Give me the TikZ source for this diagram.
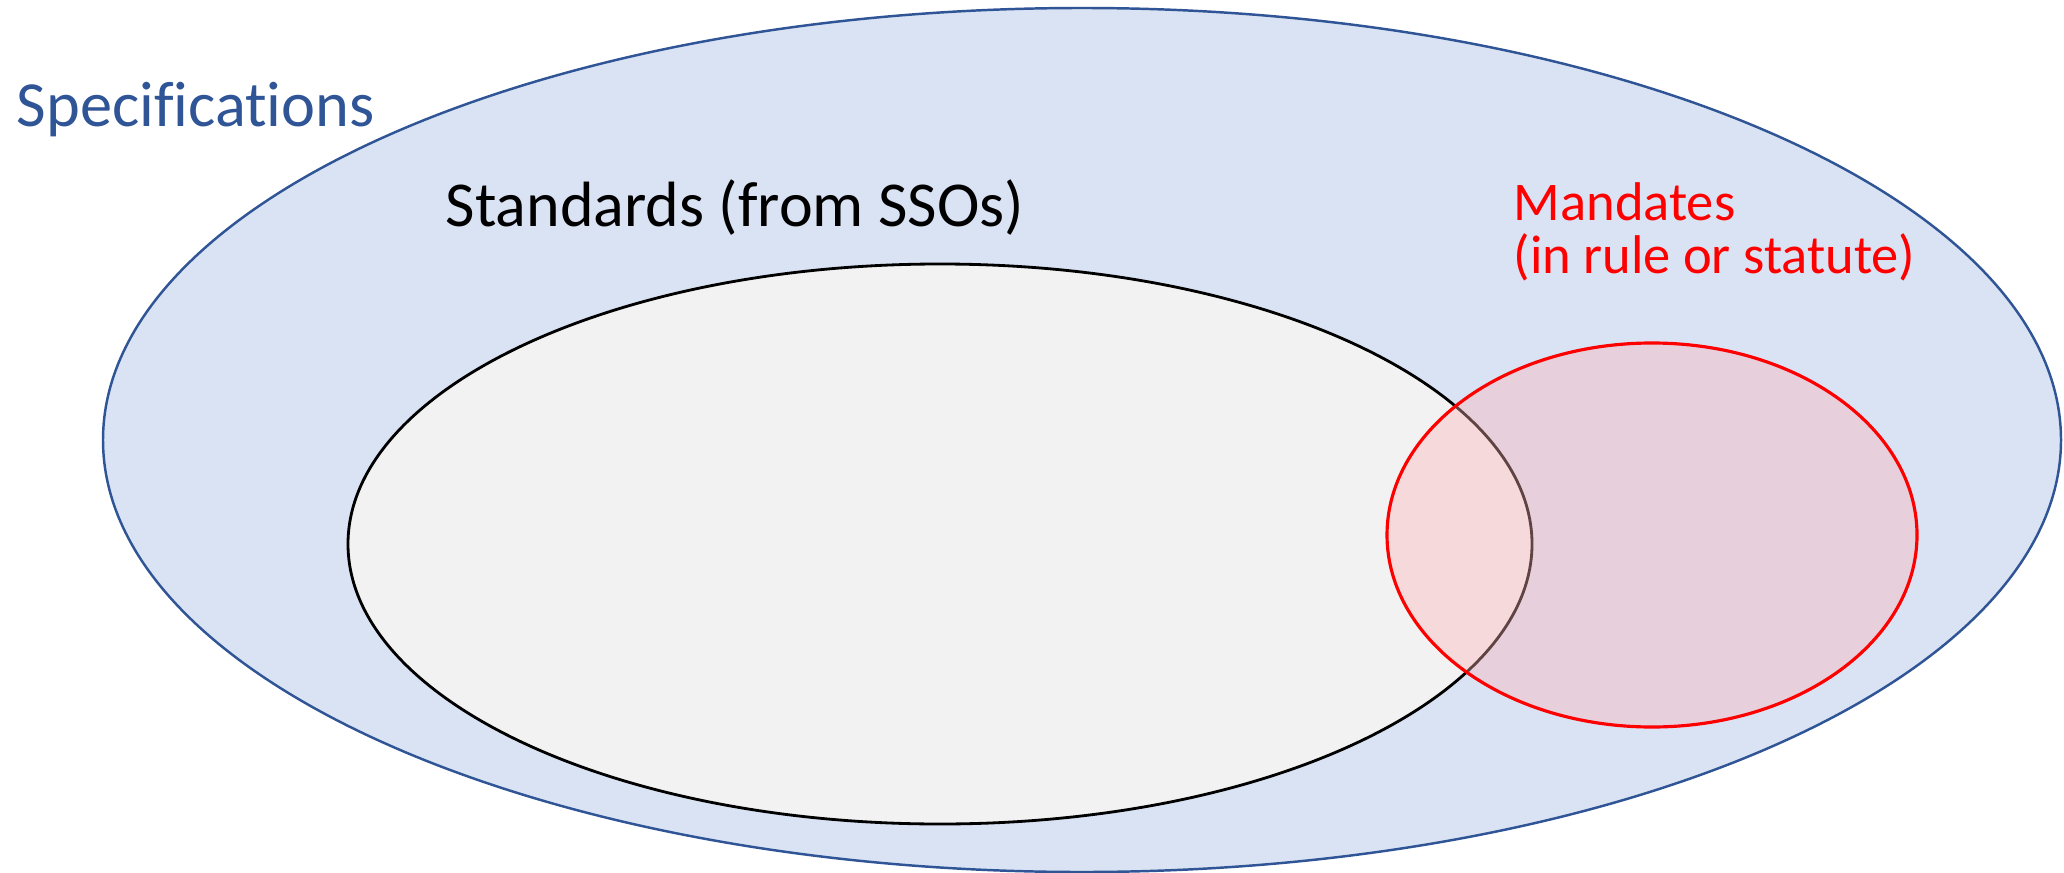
\documentclass[tikz,border=0pt]{standalone}
\usepackage{fontspec}
\setmainfont[Ligatures=NoCommon]{Carlito}
\usetikzlibrary{positioning}
\definecolor{specblue}{RGB}{47,85,151}
\definecolor{specfill}{RGB}{218,227,243}
\definecolor{stdfill}{RGB}{242,242,242}
\definecolor{mandfill}{RGB}{255,178,180}

\begin{document}
\begin{tikzpicture}[
    x=0.01cm, y=-0.01cm,
    spec_set/.style={draw=specblue, fill=specfill, line width=0.7pt},
    std_set/.style={draw=black, fill=stdfill, line width=0.8pt},
    mand_set/.style={draw=red, fill=mandfill, fill opacity=0.375, line width=0.9pt},
    set_label/.style={anchor=base west, inner sep=0pt, align=left}
]
\useasboundingbox (0,0) rectangle (2064,873);

% --- Sets ---
\draw[spec_set] (1082,440) ellipse [x radius=979, y radius=432];
\draw[std_set] (940,544) ellipse [x radius=592, y radius=280];
\draw[mand_set] (1652,535) ellipse [x radius=265, y radius=192];

% --- Labels ---
\node[set_label, text=specblue, font=\fontsize{18.3}{22}\selectfont] (spec) at (16,127) {Specifications};
\node[set_label, font=\fontsize{18.2}{22}\selectfont] (std) at (445,226) {Standards (from SSOs)};
\node[set_label, text=red, font=\fontsize{15.5}{14.8}\selectfont] (mand) at (1513,273) {Mandates\\(in rule or statute)};

\end{tikzpicture}
\end{document}
